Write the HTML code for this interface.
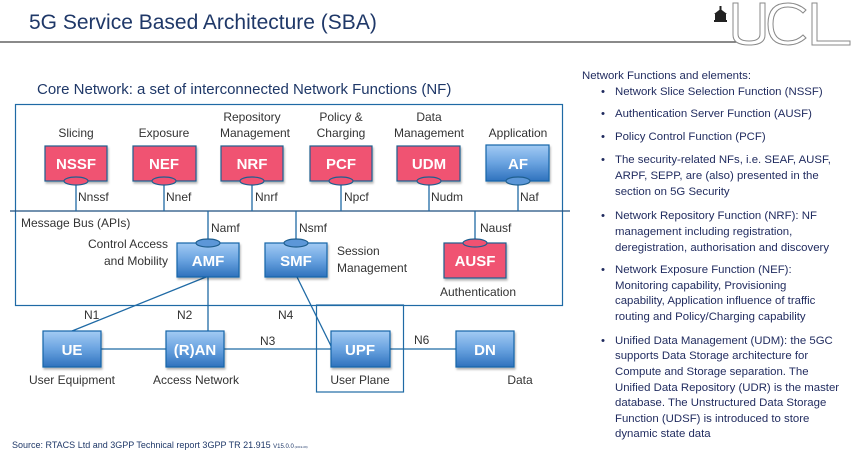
<!DOCTYPE html>
<html><head><meta charset="utf-8"><style>
html,body{margin:0;padding:0;background:#fff;width:854px;height:456px;overflow:hidden}
svg{display:block}
text{font-family:"Liberation Sans",sans-serif}
</style></head><body>
<svg width="854" height="456" viewBox="0 0 854 456" xmlns="http://www.w3.org/2000/svg">
<defs>
<linearGradient id="bg" x1="0" y1="0" x2="0" y2="1">
<stop offset="0" stop-color="#a3cbf4"/><stop offset="0.5" stop-color="#6aa3e0"/><stop offset="1" stop-color="#2f72bd"/>
</linearGradient>
<filter id="sh" x="-10%" y="-10%" width="130%" height="140%"><feDropShadow dx="1" dy="2" stdDeviation="1" flood-color="#000" flood-opacity="0.3"/></filter>
</defs>
<text x="29" y="29" font-size="21" fill="#1f3868">5G Service Based Architecture (SBA)</text>
<line x1="0" y1="42" x2="742" y2="42" stroke="#444" stroke-width="1.2"/>
<g fill="#222"><rect x="714" y="20" width="13" height="2"/><rect x="715" y="14" width="11" height="6"/><path d="M714 14 L720.5 9 L727 14Z"/><rect x="719.5" y="6" width="2" height="4"/></g>
<g fill="#fff" stroke="#888" stroke-width="1">
<path d="M733 3 V35 Q733 45 749 45 Q765 45 765 35 V3 H760 V34 Q760 41 749 41 Q738 41 738 34 V3Z"/>
<path d="M806 10 Q798 3 788 3 Q768 3 768 24 Q768 45 788 45 Q798 45 806 38 L803 35 Q797 41 788 41 Q773 41 773 24 Q773 7 788 7 Q797 7 803 13Z"/>
<path d="M812 3 V45 H850 V41 H817 V3Z"/>
</g>
<text x="37" y="94" font-size="15" fill="#1f3868">Core Network: a set of interconnected Network Functions (NF)</text>
<rect x="15.5" y="104.5" width="547" height="201" fill="none" stroke="#1f6aa5" stroke-width="1.2"/>
<line x1="10" y1="211" x2="570" y2="211" stroke="#1f4f7f" stroke-width="1.2"/>
<rect x="316.5" y="305" width="87" height="87" fill="none" stroke="#1f6aa5" stroke-width="1.2"/>
<g stroke="#1f6aa5" stroke-width="1.3" fill="none">
<line x1="76" y1="181" x2="76" y2="211"/><line x1="164" y1="181" x2="164" y2="211"/><line x1="252" y1="181" x2="252" y2="211"/><line x1="341" y1="181" x2="341" y2="211"/><line x1="429" y1="181" x2="429" y2="211"/><line x1="518" y1="181" x2="518" y2="211"/>
<line x1="208" y1="211" x2="208" y2="243"/><line x1="296" y1="211" x2="296" y2="243"/><line x1="475" y1="211" x2="475" y2="243"/>
<line x1="206" y1="277" x2="72" y2="331"/><line x1="208" y1="277" x2="208" y2="331"/><line x1="297" y1="277" x2="333" y2="350"/>
<line x1="101" y1="349" x2="166" y2="349"/><line x1="224" y1="349" x2="331" y2="349"/><line x1="390" y1="349" x2="456" y2="349"/>
</g>
<g font-size="12" fill="#333" text-anchor="middle">
<text x="76" y="137">Slicing</text><text x="164" y="137">Exposure</text>
<text x="252" y="121">Repository</text><text x="255" y="137">Management</text>
<text x="341" y="121">Policy &amp;</text><text x="341" y="137">Charging</text>
<text x="429" y="121">Data</text><text x="429" y="137">Management</text>
<text x="518" y="137">Application</text>
<text x="478" y="296">Authentication</text>
<text x="72" y="384">User Equipment</text><text x="196" y="384">Access Network</text>
<text x="360" y="384">User Plane</text><text x="520" y="384">Data</text>
</g>
<g font-size="12" fill="#333">
<text x="78" y="201">Nnssf</text><text x="166" y="201">Nnef</text><text x="255" y="201">Nnrf</text><text x="344" y="201">Npcf</text><text x="431" y="201">Nudm</text><text x="520" y="201">Naf</text>
<text x="21" y="227">Message Bus (APIs)</text>
<text x="211" y="232">Namf</text><text x="299" y="232">Nsmf</text><text x="480" y="232">Nausf</text>
<text x="168" y="248" text-anchor="end">Control Access</text><text x="168" y="265" text-anchor="end">and Mobility</text>
<text x="337" y="255">Session</text><text x="337" y="272">Management</text>
<text x="84" y="319">N1</text><text x="177" y="319">N2</text><text x="278" y="319">N4</text><text x="260" y="345">N3</text><text x="414" y="344">N6</text>
</g>
<g fill="#f05272" stroke="#1f5f8f" stroke-width="1.2" filter="url(#sh)">
<rect x="45" y="146" width="62" height="35"/><rect x="133" y="146" width="63" height="35"/><rect x="221" y="146" width="62" height="35"/><rect x="310" y="146" width="62" height="35"/><rect x="397" y="146" width="63" height="35"/><rect x="444" y="243" width="62" height="35"/>
</g>
<g fill="url(#bg)" stroke="#1565a8" stroke-width="1.2" filter="url(#sh)">
<rect x="486" y="145" width="63" height="36"/><rect x="177" y="243" width="62" height="34"/><rect x="265" y="243" width="62" height="34"/>
<rect x="43" y="331" width="58" height="36"/><rect x="166" y="331" width="58" height="36"/><rect x="331" y="331" width="59" height="36"/><rect x="456" y="331" width="58" height="36"/>
</g>
<g fill="#f05272" stroke="#1f5f8f" stroke-width="1.2">
<ellipse cx="76" cy="181" rx="12" ry="4"/><ellipse cx="164" cy="181" rx="12" ry="4"/><ellipse cx="252" cy="181" rx="12" ry="4"/><ellipse cx="341" cy="181" rx="12" ry="4"/><ellipse cx="429" cy="181" rx="12" ry="4"/><ellipse cx="475" cy="243" rx="12" ry="4"/>
</g>
<g fill="#5c97d8" stroke="#1f5f8f" stroke-width="1.2">
<ellipse cx="518" cy="181" rx="12" ry="4"/><ellipse cx="208" cy="243" rx="12" ry="4"/><ellipse cx="296" cy="243" rx="12" ry="4"/>
</g>
<g font-size="15" fill="#fff" text-anchor="middle" font-weight="bold">
<text x="76" y="169">NSSF</text><text x="164" y="169">NEF</text><text x="252" y="169">NRF</text><text x="341" y="169">PCF</text><text x="429" y="169">UDM</text><text x="518" y="169">AF</text>
<text x="208" y="266">AMF</text><text x="296" y="266">SMF</text><text x="475" y="266">AUSF</text>
<text x="72" y="355">UE</text><text x="195" y="355">(R)AN</text><text x="360" y="355">UPF</text><text x="485" y="355">DN</text>
</g>
<text x="12" y="448" font-size="9" fill="#1f3868">Source: RTACS Ltd and 3GPP Technical report 3GPP TR 21.915 <tspan font-size="6">V15.0.0</tspan><tspan font-size="3"> (2019-09)</tspan></text>
<g font-size="11.4" fill="#1f2a5e">
<text x="582" y="79">Network Functions and elements:</text>
<text x="601" y="95">•</text><text x="615" y="95">Network Slice Selection Function (NSSF)</text>
<text x="601" y="117">•</text><text x="615" y="117">Authentication Server Function (AUSF)</text>
<text x="601" y="140">•</text><text x="615" y="140">Policy Control Function (PCF)</text>
<text x="601" y="163">•</text><text x="615" y="163">The security-related NFs, i.e. SEAF, AUSF,</text><text x="615" y="179">ARPF, SEPP, are (also) presented in the</text><text x="615" y="195">section on 5G Security</text>
<text x="601" y="219">•</text><text x="615" y="219">Network Repository Function (NRF): NF</text><text x="615" y="235">management including registration,</text><text x="615" y="251">deregistration, authorisation and discovery</text>
<text x="601" y="273">•</text><text x="615" y="273">Network Exposure Function (NEF):</text><text x="615" y="289">Monitoring capability, Provisioning</text><text x="615" y="304">capability, Application influence of traffic</text><text x="615" y="320">routing and Policy/Charging capability</text>
<text x="601" y="344">•</text><text x="615" y="344">Unified Data Management (UDM): the 5GC</text><text x="615" y="359">supports Data Storage architecture for</text><text x="615" y="375">Compute and Storage separation. The</text><text x="615" y="391">Unified Data Repository (UDR) is the master</text><text x="615" y="406">database. The Unstructured Data Storage</text><text x="615" y="422">Function (UDSF) is introduced to store</text><text x="615" y="437">dynamic state data</text>
</g>
</svg>
</body></html>
